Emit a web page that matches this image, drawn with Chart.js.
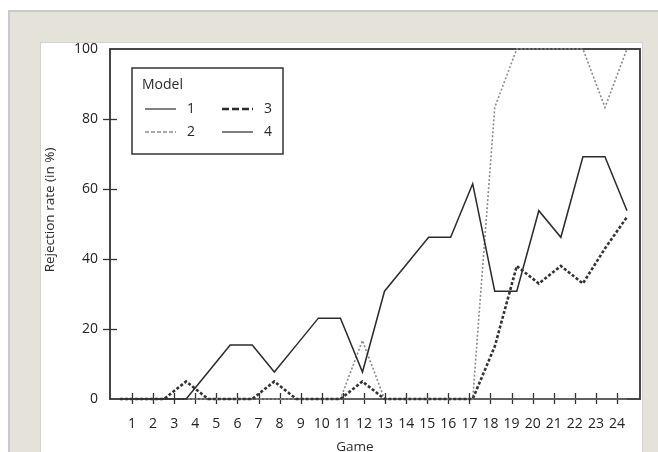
<!DOCTYPE html>
<html>
<head>
<meta charset="utf-8">
<script src="https://cdn.jsdelivr.net/npm/chart.js@4/dist/chart.umd.min.js"></script>
<style>
  html, body { margin: 0; padding: 0; background: #ffffff; width: 658px; height: 452px; overflow: hidden; }
  #outer { position: absolute; left: 8px; top: 10px; width: 650px; height: 442px; box-sizing: border-box;
           background: #e5e3d9; border-left: 2px solid #c9c9c9; border-top: 2px solid #c9c9c9; }
  #panel { position: absolute; left: 40px; top: 42px; width: 603px; height: 420px; box-sizing: border-box;
           background: #ffffff; border: 1px solid #d2d2d2; }
  #c { position: absolute; left: 0; top: 0; }
</style>
</head>
<body>
<div id="outer"></div>
<div id="panel"></div>
<canvas id="c" width="658" height="452"></canvas>
<script>
// ---- data ----
const games = [1,2,3,4,5,6,7,8,9,10,11,12,13,14,15,16,17,18,19,20,21,22,23,24];
const xTickLabels = ['1','2','3','4','5','6','7','8','9','10','11','12','13','14','15','16','17','18','19','20','21','22','23','24'];
const yTickValues = [0,20,40,60,80,100];
const seriesNames = ['1','2','3','4'];
const model1 = [0,0,0,0,7.7,15.4,15.4,7.7,15.4,23.1,23.1,7.7,30.8,38.5,46.2,46.2,61.5,30.8,30.8,53.8,46.2,69.2,69.2,53.8];
const model2 = [0,0,0,0,0,0,0,0,0,0,0,16.7,0,0,0,0,0,83.3,100,100,100,100,83.3,100];
const model3 = [0,0,0,5,0,0,0,5,0,0,0,5,0,0,0,0,0,15,38,33,38,33,43,52];
const model4 = [0,0,0,0,0,0,0,0,0,0,0,0,0,0,0,0,0,0,0,0,0,0,0,0];
const xTitle = 'Game';
const yTitle = 'Rejection rate (in %)';
const legendTitle = 'Model';

const FONT = "'Open Sans', 'DejaVu Sans', sans-serif";
const pts = arr => games.map((g, i) => ({ x: g, y: arr[i] }));

const styles = [
  { color: '#2b2b2b', width: 1.5, dash: [],     legendColor: '#2b2b2b', legendDash: [],     legendWidth: 1.2 },
  { color: '#8c8c8c', width: 1.6, dash: [2, 2], legendColor: '#555555', legendDash: [4, 2], legendWidth: 1.2 },
  { color: '#333333', width: 2.6, dash: [3, 2], legendColor: '#2b2b2b', legendDash: [7, 3], legendWidth: 2.6 },
  { color: '#6a6a6a', width: 1.5, dash: [],     legendColor: '#2b2b2b', legendDash: [],     legendWidth: 1.2 }
];
const seriesData = [model1, model2, model3, model4];

const datasets = seriesData.map((arr, i) => ({
  label: seriesNames[i],
  data: pts(arr),
  borderColor: styles[i].color,
  borderWidth: styles[i].width,
  borderDash: styles[i].dash,
  pointRadius: 0,
  tension: 0,
  fill: false,
  clip: false,
  xAxisID: 'x',
  yAxisID: 'y',
  order: [1, 2, 0, 3][i]
}));

const decor = {
  id: 'decor',
  beforeDatasetsDraw(chart) {
    const { ctx, chartArea: a, scales } = chart;
    ctx.save();
    ctx.setLineDash([]);
    // frame
    ctx.strokeStyle = '#333333';
    ctx.lineWidth = 1.8;
    ctx.strokeRect(a.left, a.top, a.right - a.left, a.bottom - a.top);
    // x tick marks crossing the axis
    ctx.lineWidth = 1.3;
    const sx = scales.x2;
    games.forEach(g => {
      const px = Math.round(sx.getPixelForValue(g)) + 0.5;
      ctx.beginPath(); ctx.moveTo(px, a.bottom - 6); ctx.lineTo(px, a.bottom + 5); ctx.stroke();
    });
    // y tick marks crossing the axis
    const sy = scales.y;
    yTickValues.filter(v => v > 0 && v < 100).forEach(v => {
      const py = Math.round(sy.getPixelForValue(v)) + 0.5;
      ctx.beginPath(); ctx.moveTo(a.left - 7, py); ctx.lineTo(a.left + 7, py); ctx.stroke();
    });
    ctx.restore();
  },
  afterDraw(chart) {
    const { ctx, chartArea: a } = chart;
    ctx.save();
    // axis titles
    ctx.fillStyle = '#2a2a2a';
    ctx.font = '13.5px ' + FONT;
    ctx.textAlign = 'center';
    ctx.textBaseline = 'middle';
    ctx.fillText(xTitle, 355, 447);
    ctx.save();
    ctx.translate(50, 210);
    ctx.rotate(-Math.PI / 2);
    ctx.fillText(yTitle, 0, 0);
    ctx.restore();
    // legend box
    const bx = a.left + 22, by = a.top + 19, bw = 151, bh = 86;
    ctx.fillStyle = '#ffffff';
    ctx.fillRect(bx, by, bw, bh);
    ctx.strokeStyle = '#333333';
    ctx.lineWidth = 1.5;
    ctx.strokeRect(bx, by, bw, bh);
    ctx.fillStyle = '#2a2a2a';
    ctx.font = '14px ' + FONT;
    ctx.textAlign = 'left';
    ctx.fillText(legendTitle, bx + 10, by + 17);
    const cols = [bx + 13, bx + 90];
    const rows = [by + 41, by + 64];
    seriesNames.forEach((name, i) => {
      const col = Math.floor(i / 2), row = i % 2;
      const lx = cols[col], ly = rows[row];
      ctx.strokeStyle = styles[i].legendColor;
      ctx.lineWidth = styles[i].legendWidth;
      ctx.setLineDash(styles[i].legendDash);
      ctx.beginPath(); ctx.moveTo(lx, ly); ctx.lineTo(lx + 31, ly); ctx.stroke();
      ctx.setLineDash([]);
      ctx.fillText(name, lx + 42, ly);
    });
    ctx.restore();
  }
};

new Chart(document.getElementById('c'), {
  type: 'line',
  data: { datasets },
  options: {
    responsive: false,
    devicePixelRatio: 1,
    animation: false,
    events: [],
    layout: { padding: { left: 40, top: 49, right: 18, bottom: 0 } },
    plugins: { legend: { display: false }, tooltip: { enabled: false }, title: { display: false } },
    scales: {
      x: {
        type: 'linear', display: false,
        min: 0.5463, max: 24.59
      },
      x2: {
        type: 'linear', position: 'bottom',
        min: -0.043, max: 25.09,
        grid: { display: false, drawTicks: false },
        border: { display: false },
        afterBuildTicks: s => { s.ticks = games.map(v => ({ value: v })); },
        afterFit: s => { s.height = 53; },
        ticks: {
          autoSkip: false, maxRotation: 0, minRotation: 0, padding: 17,
          color: '#222222', font: { family: FONT, size: 14 },
          callback: (v) => xTickLabels[games.indexOf(v)] ?? ''
        }
      },
      y: {
        type: 'linear', min: 0, max: 100,
        grid: { display: false, drawTicks: false },
        border: { display: false },
        afterBuildTicks: s => { s.ticks = yTickValues.map(v => ({ value: v })); },
        afterFit: s => { s.width = 70; },
        ticks: { padding: 12, color: '#222222', font: { family: FONT, size: 14 } }
      }
    }
  },
  plugins: [decor]
});
</script>
</body>
</html>
